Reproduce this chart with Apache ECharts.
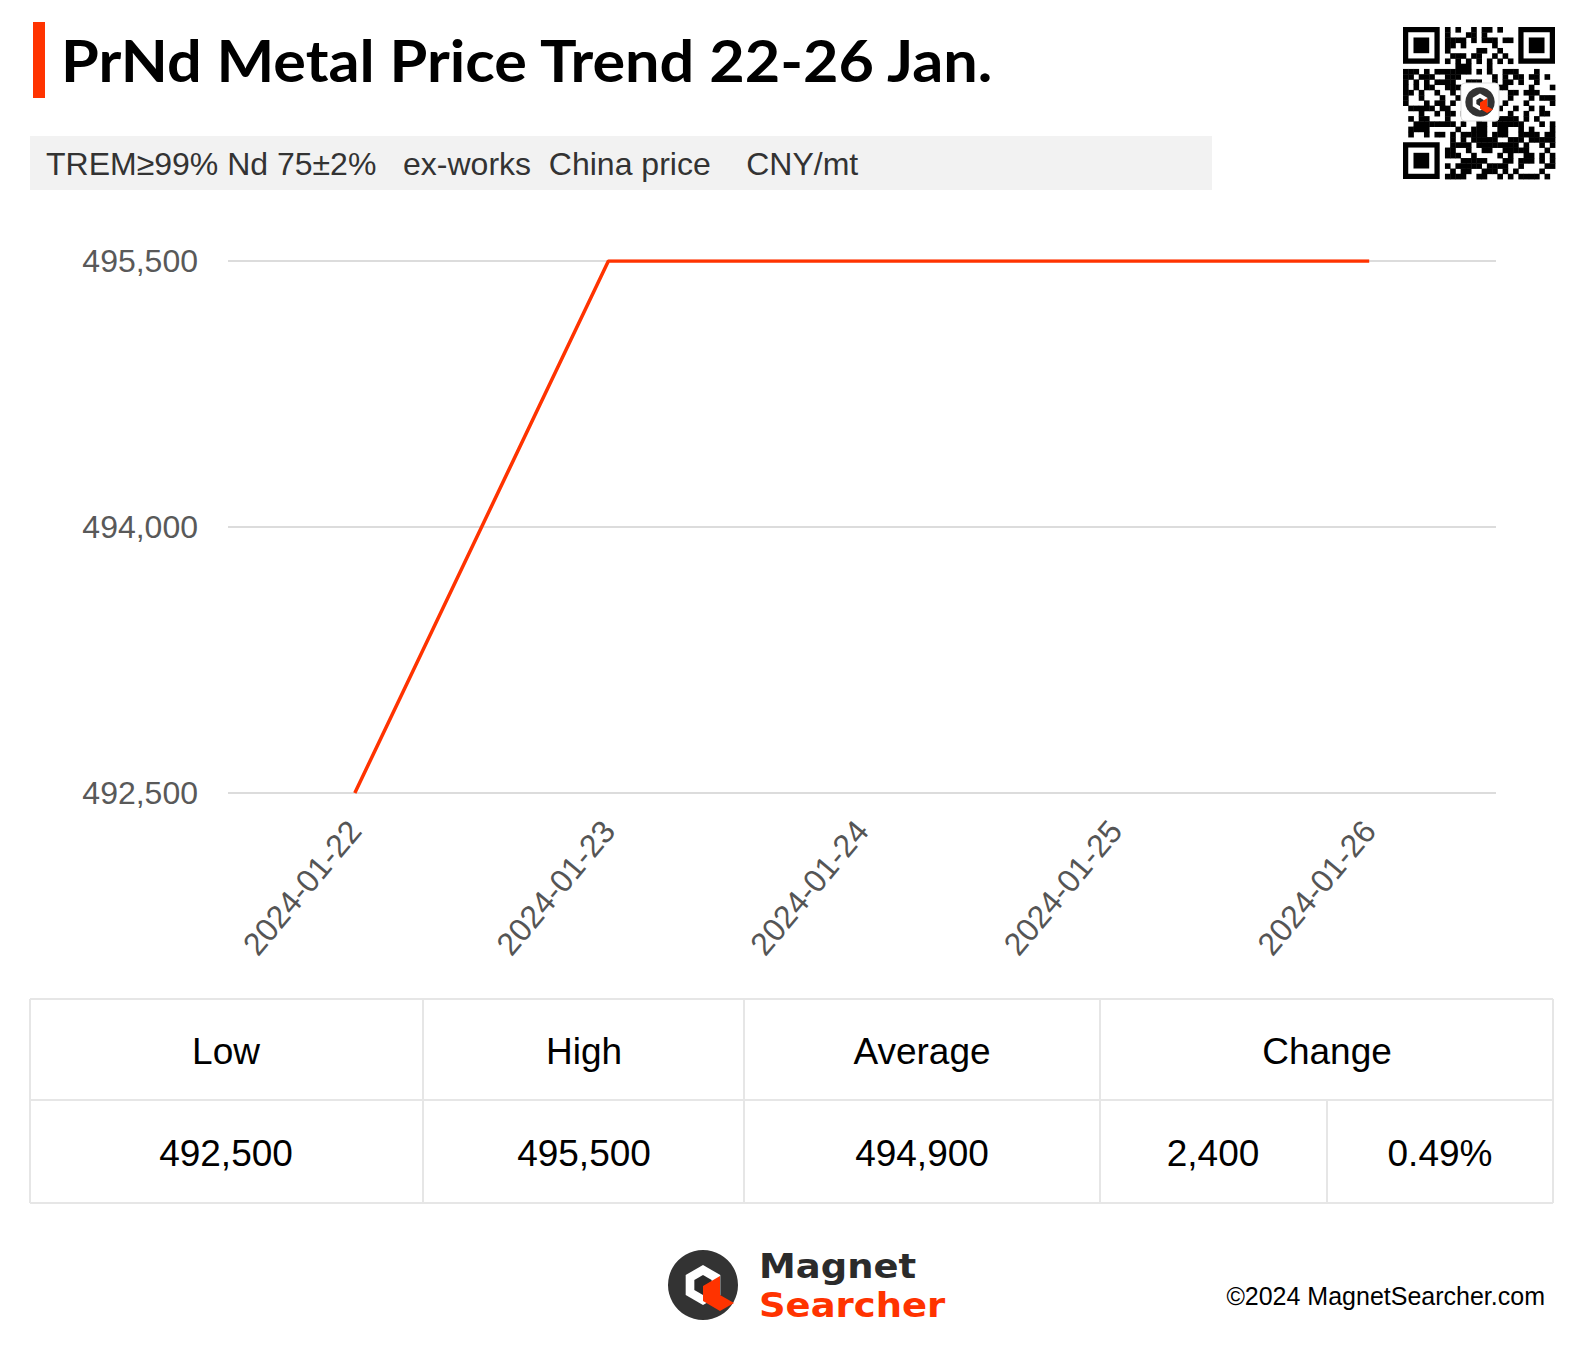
<!DOCTYPE html>
<html>
<head>
<meta charset="utf-8">
<script src="https://cdn.jsdelivr.net/npm/echarts@6/dist/echarts.min.js"></script>
<style>
html,body{margin:0;padding:0;background:#fff;}
#chart{width:1583px;height:1355px;}
</style>
</head>
<body>
<div id="chart"></div>
<script>
// ---- data ----
const titleText = 'PrNd Metal Price Trend 22-26 Jan.';
const subtitleText = 'TREM\u226599% Nd 75\u00b12%\u00a0\u00a0 ex-works\u00a0\u00a0China price\u00a0\u00a0\u00a0 CNY/mt';
const dates = ['2024-01-22', '2024-01-23', '2024-01-24', '2024-01-25', '2024-01-26'];
const prices = [492500, 495500, 495500, 495500, 495500];
const yTicks = [492500, 494000, 495500];
const tableHeaders = ['Low', 'High', 'Average', 'Change'];
const tableValues = ['492,500', '495,500', '494,900', '2,400', '0.49%'];
const footerText = '\u00a92024 MagnetSearcher.com';
const brandTop = 'Magnet';
const brandBottom = 'Searcher';

const RED = '#ff3300';
const chart = echarts.init(document.getElementById('chart'), null, {renderer: 'svg'});

const fmt = v => String(v).replace(/\B(?=(\d{3})+(?!\d))/g, ',');

const graphics = [];
// title bar
graphics.push({type: 'rect', shape: {x: 33, y: 22, width: 12, height: 76}, style: {fill: RED}});
graphics.push({type: 'text', x: 61, y: 60, scaleX: 1.055, style: {text: titleText, font: 'bold 58px Lato, "Noto Sans", sans-serif', fill: '#000', verticalAlign: 'middle'}});
// subtitle
graphics.push({type: 'rect', shape: {x: 30, y: 136, width: 1182, height: 54}, style: {fill: '#f2f2f2'}});
graphics.push({type: 'text', x: 46, y: 164, style: {text: subtitleText, font: '32px "Liberation Sans", Arial, sans-serif', fill: '#333', verticalAlign: 'middle'}});

// table
const lineStyle = {stroke: '#e6e6e6', lineWidth: 2};
const tX0 = 30, tX1 = 1553, tY0 = 999, tY1 = 1100, tY2 = 1203;
[tY0, tY1, tY2].forEach(y => graphics.push({type: 'line', shape: {x1: tX0, y1: y, x2: tX1, y2: y}, style: lineStyle}));
[tX0, 423, 744, 1100, tX1].forEach(x => graphics.push({type: 'line', shape: {x1: x, y1: tY0, x2: x, y2: tY2}, style: lineStyle}));
graphics.push({type: 'line', shape: {x1: 1327, y1: tY1, x2: 1327, y2: tY2}, style: lineStyle});
const headerX = [226, 584, 922, 1327];
const valueX = [226, 584, 922, 1213, 1440];
const cellFont = '37px "Liberation Sans", Arial, sans-serif';
tableHeaders.forEach((t, i) => graphics.push({type: 'text', x: headerX[i], y: 1051, style: {text: t, font: cellFont, fill: '#000', align: 'center', verticalAlign: 'middle'}}));
tableValues.forEach((t, i) => graphics.push({type: 'text', x: valueX[i], y: 1153, style: {text: t, font: cellFont, fill: '#000', align: 'center', verticalAlign: 'middle'}}));

// logo
function logo(cx, cy, s) {
  const out = [];
  out.push({type: 'circle', shape: {cx: cx, cy: cy, r: 35 * s}, style: {fill: '#333'}});
  const hex = r => [[0, -r], [0.866 * r, -r / 2], [0.866 * r, r / 2], [0, r], [-0.866 * r, r / 2], [-0.866 * r, -r / 2]].map(p => [cx + p[0] * s, cy + p[1] * s]);
  out.push({type: 'polygon', shape: {points: hex(20)}, style: {fill: '#fff'}});
  out.push({type: 'polygon', shape: {points: hex(10)}, style: {fill: '#2a2a2a'}});
  const red = [[0, 1], [17, -9], [17, 10], [31, 18], [17, 26], [0, 16]].map(p => [cx + p[0] * s, cy + p[1] * s]);
  out.push({type: 'polygon', shape: {points: red}, style: {fill: RED}});
  return out;
}
logo(703, 1285, 1).forEach(g => graphics.push(g));
const brandFont = 'bold 33px "DejaVu Sans", sans-serif';
graphics.push({type: 'text', x: 759, y: 1266, scaleX: 1.12, style: {text: brandTop, font: brandFont, fill: '#2b2b2b', verticalAlign: 'middle'}});
graphics.push({type: 'text', x: 759, y: 1305, scaleX: 1.12, style: {text: brandBottom, font: brandFont, fill: RED, verticalAlign: 'middle'}});
graphics.push({type: 'text', x: 1545, y: 1296, style: {text: footerText, font: '25px "Liberation Sans", Arial, sans-serif', fill: '#000', align: 'right', verticalAlign: 'middle'}});

// QR-like decorative code
(function () {
  const N = 29, m = 152 / N, ox = 1403, oy = 27;
  const inFinder = (r, c) => (r < 8 && c < 8) || (r < 8 && c >= N - 8) || (r >= N - 8 && c < 8);
  const rects = [];
  function finder(r0, c0) {
    rects.push({type: 'rect', shape: {x: ox + c0 * m, y: oy + r0 * m, width: 7 * m, height: 7 * m}, style: {fill: '#000'}});
    rects.push({type: 'rect', shape: {x: ox + (c0 + 1) * m, y: oy + (r0 + 1) * m, width: 5 * m, height: 5 * m}, style: {fill: '#fff'}});
    rects.push({type: 'rect', shape: {x: ox + (c0 + 2) * m, y: oy + (r0 + 2) * m, width: 3 * m, height: 3 * m}, style: {fill: '#000'}});
  }
  finder(0, 0); finder(0, N - 7); finder(N - 7, 0);
  for (let r = 0; r < N; r++) {
    for (let c = 0; c < N; c++) {
      if (inFinder(r, c)) continue;
      if (r === 6 || c === 6) { if ((r + c) % 2 === 0) rects.push({type: 'rect', shape: {x: ox + c * m, y: oy + r * m, width: m + 0.4, height: m + 0.4}, style: {fill: '#000'}}); continue; }
      const h = ((r * 73856093) ^ (c * 19349663) ^ (r * c * 83492791)) >>> 0;
      if ((h % 100) < 52) rects.push({type: 'rect', shape: {x: ox + c * m, y: oy + r * m, width: m + 0.4, height: m + 0.4}, style: {fill: '#000'}});
    }
  }
  rects.forEach(g => graphics.push(g));
  graphics.push({type: 'rect', shape: {x: 1461, y: 83, width: 38, height: 38, r: 4}, style: {fill: '#fff', stroke: '#ddd', lineWidth: 1}});
  logo(1480, 102, 0.42).forEach(g => graphics.push(g));
})();

chart.setOption({
  backgroundColor: '#fff',
  animation: false,
  grid: {left: 228, right: 87, top: 261, bottom: 562, containLabel: false},
  xAxis: {
    type: 'category',
    data: dates,
    boundaryGap: true,
    axisLine: {show: false},
    axisTick: {show: false},
    axisLabel: {rotate: 50, fontSize: 32, color: '#555', margin: 32, fontFamily: '"Liberation Sans", Arial, sans-serif'}
  },
  yAxis: {
    type: 'value',
    min: yTicks[0],
    max: yTicks[yTicks.length - 1],
    interval: yTicks[1] - yTicks[0],
    axisLine: {show: false},
    axisTick: {show: false},
    axisLabel: {fontSize: 32, color: '#595959', margin: 30, fontFamily: '"Liberation Sans", Arial, sans-serif', formatter: v => fmt(v)},
    splitLine: {lineStyle: {color: '#dcdcdc', width: 2}}
  },
  series: [{
    type: 'line',
    data: prices,
    symbol: 'none',
    lineStyle: {color: RED, width: 3.5},
    itemStyle: {color: RED}
  }],
  graphic: graphics
});
</script>
</body>
</html>
